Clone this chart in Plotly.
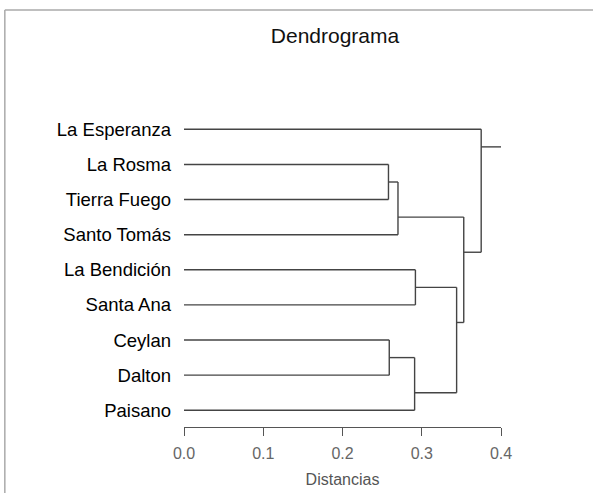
import plotly.graph_objects as go

# ---- data ----
labels = ["La Esperanza", "La Rosma", "Tierra Fuego", "Santo Tomás",
          "La Bendición", "Santa Ana", "Ceylan", "Dalton", "Paisano"]
# merges: (left, right, height); negative = leaf index (1-based), positive = merge number
merge_left = [-2, -7, 1, 2, -5, 5, 3, -1]
merge_right = [-3, -8, -4, -9, -6, 4, 6, 7]
merge_height = [0.258, 0.259, 0.270, 0.291, 0.292, 0.344, 0.353, 0.375]
root_end = 0.4
x_ticks = [0.0, 0.1, 0.2, 0.3, 0.4]
x_tick_text = ["0.0", "0.1", "0.2", "0.3", "0.4"]

# ---- layout computation (position of nodes) ----
n = len(labels)
leaf_pos = {i + 1: i + 1 for i in range(n)}
node_pos, node_h, node_last = {}, {}, {}


def info(c):
    if c < 0:
        return leaf_pos[-c], 0.0, leaf_pos[-c]
    return node_pos[c], node_h[c], node_last[c]


xs, ys = [], []
for k, (a, b, h) in enumerate(zip(merge_left, merge_right, merge_height), start=1):
    pa, ha, la = info(a)
    pb, hb, lb = info(b)
    for p, hh in ((pa, ha), (pb, hb)):
        xs += [hh, h, None]
        ys += [p, p, None]
    xs += [h, h, None]
    ys += [pa, pb, None]
    node_pos[k] = la + 0.5
    node_h[k] = h
    node_last[k] = lb

last = len(merge_height)
xs += [node_h[last], root_end, None]
ys += [node_pos[last], node_pos[last], None]

fig = go.Figure()
fig.add_trace(go.Scatter(x=xs, y=ys, mode="lines",
                         line=dict(color="#444444", width=1.4),
                         hoverinfo="skip", cliponaxis=False, showlegend=False))

W, H = 593, 493
ml, mr, mt, mb = 184, 92.3, 110, 66.3
pw, ph = W - ml - mr, H - mt - mb

fig.update_layout(
    width=W, height=H,
    margin=dict(l=ml, r=mr, t=mt, b=mb, pad=0),
    paper_bgcolor="white", plot_bgcolor="white",
    font=dict(family="Liberation Sans, Arial, sans-serif"),
    title=dict(text="Dendrograma", x=335 / W, xanchor="center",
               y=1 - 36 / H, yanchor="middle", xref="container", yref="container",
               font=dict(size=21, color="#111111")),
    xaxis=dict(range=[0, 0.4], tickvals=x_ticks, ticktext=x_tick_text,
               automargin=False,
               showline=True, linecolor="#555555", linewidth=1.3,
               ticks="outside", ticklen=8, tickwidth=1.3, tickcolor="#555555",
               ticklabelstandoff=4,
               tickfont=dict(size=16, color="#666666"),
               showgrid=False, zeroline=False,
               title=dict(text="Distancias", font=dict(size=16, color="#555555"), standoff=12)),
    yaxis=dict(range=[9.476, 0.45], tickvals=list(range(1, n + 1)), ticktext=labels,
               automargin=False,
               showline=False, showgrid=False, zeroline=False, ticks="",
               ticklabelstandoff=12,
               tickfont=dict(size=18.5, color="#000000")),
    shapes=[
        dict(type="line", xref="paper", yref="paper",
             x0=(5 - ml) / pw, x1=(W - ml) / pw,
             y0=1 + (mt - 10) / ph, y1=1 + (mt - 10) / ph,
             line=dict(color="#aaaaaa", width=1.5)),
        dict(type="line", xref="paper", yref="paper",
             x0=(5 - ml) / pw, x1=(5 - ml) / pw,
             y0=1 + (mt - 10) / ph, y1=-(mb) / ph,
             line=dict(color="#aaaaaa", width=1.5)),
    ],
)

fig.write_html("out.html")
